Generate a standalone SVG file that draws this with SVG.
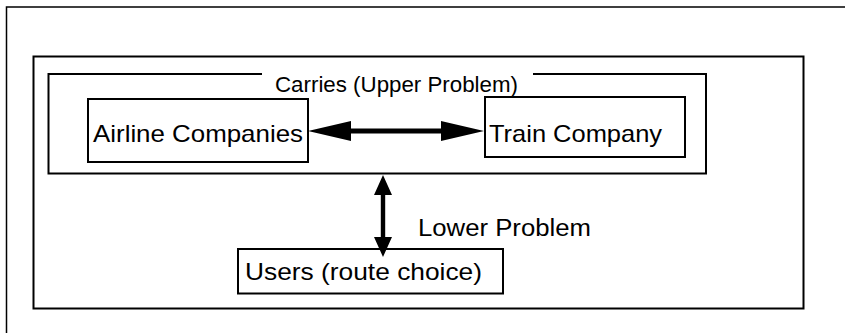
<svg xmlns="http://www.w3.org/2000/svg" width="845" height="333" viewBox="0 0 845 333">
<style>
.box{fill:none;stroke:#000;stroke-width:2}
.t{font-family:"Liberation Sans",Arial,sans-serif;fill:#000}
.ar{fill:#000;stroke:none}
</style>
<rect width="845" height="333" fill="#fff"/>
<g id="frame">
<path d="M6.5,333 V7 H845" fill="none" stroke="#000" stroke-width="1.5"/>
</g>
<g id="outer-box">
<rect class="box" x="33.5" y="56.5" width="770" height="252" stroke-width="2.2"/>
</g>
<g id="carries">
<path class="box" d="M262,74 H48.5 V173.5 H706 V74 H533" stroke-width="2.5"/>
<text class="t" x="275" y="92" font-size="22" textLength="243" lengthAdjust="spacingAndGlyphs">Carries (Upper Problem)</text>
</g>
<g id="airline">
<rect class="box" x="88" y="99" width="220" height="63"/>
<text class="t" x="93" y="142" font-size="24" textLength="210" lengthAdjust="spacingAndGlyphs">Airline Companies</text>
</g>
<g id="train">
<rect class="box" x="485" y="97" width="200" height="60"/>
<text class="t" x="489" y="142" font-size="24" textLength="173" lengthAdjust="spacingAndGlyphs">Train Company</text>
</g>
<g id="users">
<rect class="box" x="238" y="249" width="265" height="44.5"/>
<text class="t" x="245" y="280" font-size="24" textLength="237" lengthAdjust="spacingAndGlyphs">Users (route choice)</text>
</g>
<g id="connectors">
<path class="ar" d="M308,131 L351,121 L351,128.5 L441,128.5 L441,121 L484,131 L441,141 L441,133.5 L351,133.5 L351,141 Z"/>
<path class="ar" d="M383,175 L392,195 L385.2,195 L385.2,237 L392,237 L383,257 L374,237 L380.8,237 L380.8,195 L374,195 Z"/>
<text class="t" x="418" y="236" font-size="23" textLength="173" lengthAdjust="spacingAndGlyphs">Lower Problem</text>
</g>
</svg>
